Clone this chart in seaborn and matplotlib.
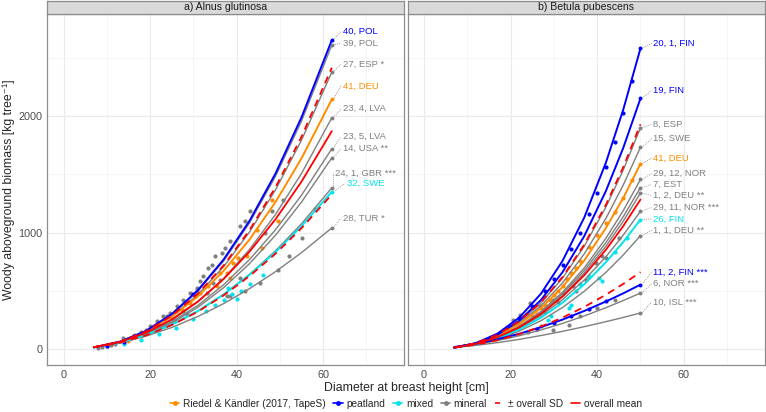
import matplotlib
matplotlib.use("Agg")
import matplotlib.pyplot as plt
from matplotlib.lines import Line2D
import pandas as pd
import seaborn as sns

# ---- a) Alnus glutinosa : model curves, biomass [kg] at given DBH [cm]
aln_dbh = [7, 13, 19, 25, 31, 37, 43, 49, 55, 62]
aln_40_pol = [14.1, 62.5, 155, 300, 503, 769, 1102, 1508, 1990, 2653]
aln_39_pol = [13.9, 61.4, 153, 295, 495, 756, 1084, 1484, 1958, 2610]
aln_27_esp = [14.1, 60.5, 148, 281, 467, 707, 1006, 1368, 1794, 2378]
aln_41_deu = [15.8, 63.8, 150, 278, 451, 671, 941, 1263, 1637, 2144]
aln_23_4_lva = [13.2, 54.6, 131, 246, 403, 606, 856, 1156, 1508, 1986]
aln_23_5_lva = [14.2, 55.3, 128, 233, 374, 552, 769, 1025, 1321, 1720]
aln_14_usa = [13.5, 52.8, 122, 223, 357, 527, 734, 978, 1262, 1642]
aln_24_1_gbr = [14.2, 52.1, 115, 206, 323, 468, 642, 844, 1076, 1384]
aln_32_swe = [15.4, 54.9, 120, 210, 326, 469, 638, 833, 1056, 1350]
aln_28_tur = [16.5, 53.5, 110, 185, 279, 390, 519, 665, 828, 1040]
aln_mean = [15.4, 60.2, 139, 254, 407, 601, 837, 1115, 1438, 1871]
aln_sd_hi = [14.4, 61.5, 150, 286, 474, 718, 1022, 1390, 1823, 2416]
aln_sd_lo = [15.2, 54.0, 117, 206, 320, 461, 627, 819, 1038, 1327]

aln_labels = ["40, POL", "39, POL", "27, ESP *", "41, DEU", "23, 4, LVA", "23, 5, LVA",
              "14, USA **", "24, 1, GBR ***", "32, SWE", "28, TUR *"]
aln_groups = ["peatland", "mineral", "mineral", "tapes", "mineral", "mineral",
              "mineral", "mineral", "mixed", "mineral"]
aln_label_x = [64.5, 64.5, 64.5, 64.5, 64.6, 64.5, 64.5, 62.7, 65.4, 64.5]
aln_label_y = [2726, 2625, 2445, 2258, 2064, 1823, 1720, 1513, 1419, 1126]

# observations (tree level)
aln_gray_d = [8, 9, 10, 11, 12, 13.8, 15, 16.2, 17, 18.0, 19, 20.0, 21, 21.6, 23.1, 23.9,
              24.6, 25.5, 26.2, 27.7, 27.7, 28.5, 29.2, 30.8, 30.8, 31.5, 32.3, 33.1, 33.5,
              34.2, 34.6, 35.0, 36.2, 36.6, 37.3, 37.7, 38.5, 38.5, 40.8, 40.8, 41.9, 41.9,
              43.1, 45.4, 46.5, 48.1, 49.6, 50.8, 52.0, 55.0, 58.0]
aln_gray_b = [12, 18, 25, 35, 45, 95, 85, 123, 110, 150, 165, 194, 160, 237, 280, 280,
              310, 250, 366, 424, 330, 300, 481, 524, 510, 581, 624, 481, 696,
              725, 567, 796, 596, 825, 868, 452, 925, 452, 1054, 610, 1097, 495,
              1183, 567, 997, 1183, 682, 1284, 800, 950, 1200]
aln_orange_d = [15.0, 18.0, 20.0, 22.5, 25.0, 27.3, 29.2, 30.4, 31.5, 33.5, 35.4, 36.2,
                37.7, 38.5, 39.2, 40.4, 42.3, 44.6, 45.8, 48.1, 49.6]
aln_orange_b = [70, 115, 150, 200, 260, 338, 395, 452, 481, 538, 538, 653,
                653, 610, 739, 782, 796, 1026, 868, 1278, 1097]
aln_cyan_d = [14, 18, 22, 26, 30, 33, 35, 37, 38, 39, 40, 41, 43, 46]
aln_cyan_b = [45, 80, 125, 180, 260, 330, 380, 420, 520, 470, 430, 500, 560, 640]
aln_blue_d = [10, 14, 18, 22, 26, 30]
aln_blue_b = [30, 60, 120, 210, 330, 470]

# ---- b) Betula pubescens
bet_dbh = [7, 12, 17, 22, 27, 32, 37, 42, 46, 50]
bet_20_1_fin = [11.6, 51.0, 133, 270, 474, 757, 1128, 1599, 2053, 2582]
bet_19_fin = [11.8, 49.0, 123, 244, 420, 660, 969, 1356, 1725, 2152]
bet_8_esp = [12.6, 49.9, 121, 234, 395, 609, 882, 1218, 1536, 1900]
bet_15_swe = [12.7, 48.9, 117, 223, 371, 568, 816, 1121, 1407, 1733]
bet_41_deu = [12.9, 48.2, 113, 213, 351, 533, 760, 1038, 1296, 1590]
bet_29_12_nor = [11.8, 44.1, 104, 195, 322, 488, 696, 950, 1187, 1456]
bet_7_est = [12.4, 45.1, 104, 193, 316, 475, 673, 913, 1135, 1387]
bet_1_2_deu = [12.0, 43.6, 101, 187, 305, 459, 651, 882, 1097, 1340]
bet_29_11_nor = [12.9, 44.4, 99, 179, 287, 424, 592, 792, 977, 1183]
bet_26_fin = [12.1, 41.7, 93, 168, 269, 398, 556, 745, 918, 1112]
bet_1_1_deu = [11.7, 39.3, 86, 154, 243, 357, 495, 658, 807, 974]
bet_11_2_fin = [17.7, 45.5, 84, 131, 188, 253, 327, 408, 478, 553]
bet_6_nor = [15.4, 39.6, 73, 114, 164, 220, 284, 355, 416, 481]
bet_10_isl = [13.3, 31.6, 55, 83, 116, 152, 192, 235, 271, 310]
bet_mean = [12.6, 44.9, 102, 186, 302, 450, 633, 852, 1055, 1284]
bet_sd_hi = [12.8, 50.7, 123, 238, 401, 618, 896, 1237, 1560, 1930]
bet_sd_lo = [12.9, 38.0, 76, 128, 193, 270, 361, 466, 559, 660]

bet_labels = ["20, 1, FIN", "19, FIN", "8, ESP", "15, SWE", "41, DEU", "29, 12, NOR",
              "7, EST", "1, 2, DEU **", "29, 11, NOR ***", "26, FIN", "1, 1, DEU **",
              "11, 2, FIN ***", "6, NOR ***", "10, ISL ***"]
bet_groups = ["peatland", "peatland", "mineral", "mineral", "tapes", "mineral",
              "mineral", "mineral", "mineral", "mixed", "mineral",
              "peatland", "mineral", "mineral"]
bet_label_x = [53.0] * 14
bet_label_y = [2625, 2221, 1929, 1808, 1642, 1507, 1413, 1318, 1218, 1118, 1020, 662, 561, 404]

bet_gray_d = [15, 17, 19, 20.5, 22, 22.1, 24, 24.4, 25, 26.7, 27, 28, 29.8, 29.8, 31, 32.1,
              33.6, 34.4, 35, 36, 37.5, 38, 39.8, 40, 41.0, 42, 44, 45]
bet_gray_b = [80, 110, 150, 252, 200, 295, 150, 396, 260, 366, 200, 320, 424, 166, 400, 481,
              209, 538, 500, 280, 596, 620, 739, 350, 796, 780, 420, 950]
bet_orange_d = [18, 20, 22, 24, 25, 26, 27, 28, 29, 30, 31, 32, 33, 34, 35, 36, 38, 40, 42,
                44, 46, 48]
bet_orange_b = [110, 140, 180, 240, 280, 300, 350, 380, 420, 460, 500, 540, 600, 650, 700,
                760, 880, 980, 1080, 1180, 1300, 1450]
bet_cyan_d = [28.6, 29.4, 33.6, 34.0, 36, 38, 40.5, 41.0, 44, 47]
bet_cyan_b = [252, 280, 352, 381, 560, 630, 610, 581, 830, 950]
bet_blue_d = [22, 25, 26, 28, 30, 30, 32, 34, 34, 36, 38, 38, 40, 42, 42, 44, 46, 48]
bet_blue_b = [270, 370, 175, 500, 600, 225, 720, 860, 285, 1000, 1160, 345, 1340, 1560,
              410, 1780, 2030, 2300]

ORANGE = "#FF8C00"
BLUE = "#0000FF"
CYAN = "#00E5EE"
GRAY = "#7F7F7F"
RED = "#FF0000"
group_color = {"tapes": ORANGE, "peatland": BLUE, "mixed": CYAN, "mineral": GRAY}

sns.set_theme(style="white")
plt.rcParams["font.family"] = ["Liberation Sans", "DejaVu Sans"]

fig = plt.figure(figsize=(7.66, 4.12), dpi=100)
W, H = 766.0, 412.0
ax_l = fig.add_axes([47.3 / W, 1 - 365 / H, 357 / W, 351 / H])
ax_r = fig.add_axes([407.7 / W, 1 - 365 / H, 357.3 / W, 351 / H])


def draw_panel(ax, dbh, curves, labels, groups, label_x, label_y, mean, sd_hi, sd_lo, pts, title):
    # scatter of observations
    for grp, d, b in pts:
        sns.scatterplot(x=d, y=b, color=group_color[grp], s=9, linewidth=0, ax=ax, zorder=2,
                        legend=False)
    # model curves, grey first
    order = sorted(range(len(curves)), key=lambda i: {"mineral": 0, "mixed": 1, "tapes": 2,
                                                       "peatland": 3}[groups[i]])
    for i in order:
        grp = groups[i]
        lw = 1.0 if grp == "mineral" else 1.4
        df = pd.DataFrame({"dbh": dbh, "agb": curves[i]})
        sns.lineplot(data=df, x="dbh", y="agb", color=group_color[grp], lw=lw, ax=ax,
                     zorder=3, estimator=None)
        ax.scatter(dbh[-1], curves[i][-1], color=group_color[grp], s=8, zorder=4, lw=0)
        ax.plot([dbh[-1] + 0.3, label_x[i] - 0.4], [curves[i][-1], label_y[i]],
                ls=(0, (1, 1.5)), color=GRAY, lw=0.6, zorder=2)
        ax.text(label_x[i], label_y[i], labels[i], color=group_color[grp], fontsize=6.8,
                ha="left", va="center")
    sns.lineplot(x=dbh, y=mean, color=RED, lw=1.3, ax=ax, zorder=5)
    for sd in (sd_hi, sd_lo):
        sns.lineplot(x=dbh, y=sd, color=RED, lw=1.3, ax=ax, zorder=5, linestyle=(0, (4, 3)))

    ax.set_xlim(-3.75, 78.75)
    ax.set_ylim(-137, 2877)
    ax.set_xticks([0, 20, 40, 60])
    ax.set_xticks([10, 30, 50, 70], minor=True)
    ax.set_yticks([0, 1000, 2000])
    ax.set_yticks([500, 1500, 2500], minor=True)
    ax.grid(which="major", color="#EBEBEB", lw=0.8)
    ax.grid(which="minor", color="#F2F2F2", lw=0.5)
    ax.set_axisbelow(True)
    ax.set_xlabel("")
    ax.set_ylabel("")
    for sp in ax.spines.values():
        sp.set_color("#8C8C8C")
        sp.set_linewidth(0.9)
    ax.tick_params(which="major", direction="out", length=2.5, width=0.6, color="#555555",
                   labelsize=7.8, labelcolor="#4D4D4D", pad=0.8)
    ax.tick_params(which="minor", length=0)

    # facet strip
    pos = ax.get_position()
    sax = fig.add_axes([pos.x0, pos.y1, pos.width, 13.5 / H])
    sax.set_facecolor("#D9D9D9")
    sax.set_xticks([])
    sax.set_yticks([])
    for sp in sax.spines.values():
        sp.set_color("#8C8C8C")
        sp.set_linewidth(0.9)
    sax.text(0.5, 0.5, title, ha="center", va="center", fontsize=7.6, color="#1A1A1A",
             transform=sax.transAxes)


draw_panel(ax_l, aln_dbh,
           [aln_40_pol, aln_39_pol, aln_27_esp, aln_41_deu, aln_23_4_lva, aln_23_5_lva,
            aln_14_usa, aln_24_1_gbr, aln_32_swe, aln_28_tur],
           aln_labels, aln_groups, aln_label_x, aln_label_y, aln_mean, aln_sd_hi, aln_sd_lo,
           [("mineral", aln_gray_d, aln_gray_b), ("tapes", aln_orange_d, aln_orange_b),
            ("mixed", aln_cyan_d, aln_cyan_b), ("peatland", aln_blue_d, aln_blue_b)],
           "a) Alnus glutinosa")
draw_panel(ax_r, bet_dbh,
           [bet_20_1_fin, bet_19_fin, bet_8_esp, bet_15_swe, bet_41_deu, bet_29_12_nor,
            bet_7_est, bet_1_2_deu, bet_29_11_nor, bet_26_fin, bet_1_1_deu, bet_11_2_fin,
            bet_6_nor, bet_10_isl],
           bet_labels, bet_groups, bet_label_x, bet_label_y, bet_mean, bet_sd_hi, bet_sd_lo,
           [("mineral", bet_gray_d, bet_gray_b), ("tapes", bet_orange_d, bet_orange_b),
            ("mixed", bet_cyan_d, bet_cyan_b), ("peatland", bet_blue_d, bet_blue_b)],
           "b) Betula pubescens")
ax_r.tick_params(axis="y", labelleft=False, length=0)

fig.text(406 / W, 1 - 388 / H, "Diameter at breast height [cm]", ha="center", va="center",
         fontsize=8.8)
fig.text(9 / W, 1 - 189.5 / H, "Woody aboveground biomass [kg tree\u207b\u00b9]", rotation=90,
         ha="center", va="center", fontsize=8.8)

handles = [
    Line2D([0], [0], color=ORANGE, lw=1.2, marker="o", markersize=2.5),
    Line2D([0], [0], color=BLUE, lw=1.2, marker="o", markersize=2.5),
    Line2D([0], [0], color=CYAN, lw=1.2, marker="o", markersize=2.5),
    Line2D([0], [0], color=GRAY, lw=1.2, marker="o", markersize=2.5),
    Line2D([0], [0], color=RED, lw=1.2, linestyle=(0, (3, 3))),
    Line2D([0], [0], color=RED, lw=1.2),
]
names = ["Riedel & K\u00e4ndler (2017, TapeS)", "peatland", "mixed", "mineral",
         "\u00b1 overall SD", "overall mean"]
fig.legend(handles, names, loc="center", bbox_to_anchor=(406 / W, 1 - 404 / H), ncol=6,
           frameon=False, fontsize=7.3, handlelength=0.9, handletextpad=0.35,
           columnspacing=0.8, borderpad=0)

fig.savefig("out.png", dpi=100)
